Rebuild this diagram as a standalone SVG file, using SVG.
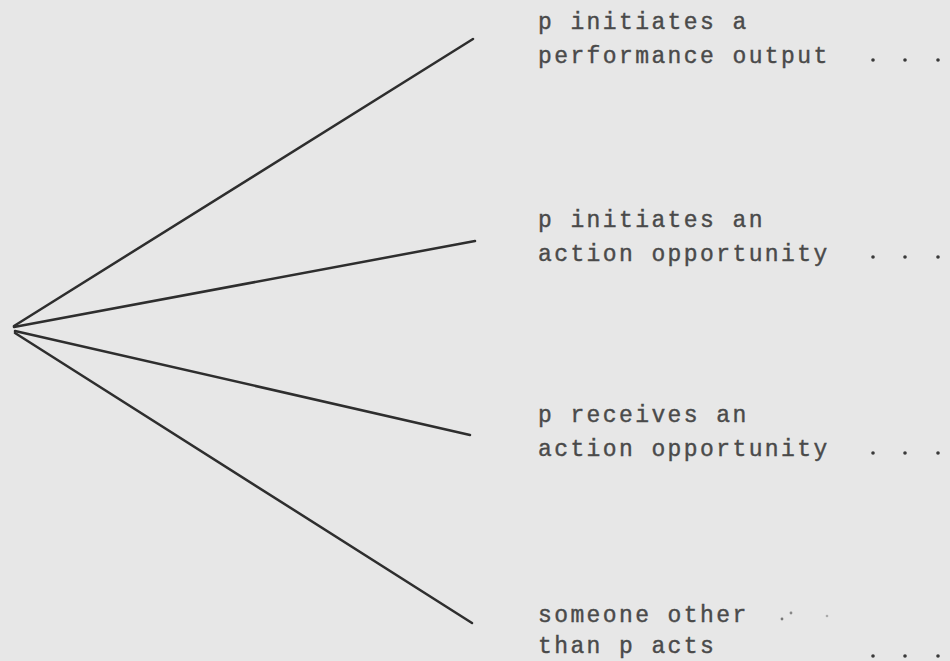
<svg xmlns="http://www.w3.org/2000/svg" width="950" height="661" viewBox="0 0 950 661">
<style>
.t{font-family:"Liberation Mono","DejaVu Sans Mono",monospace;font-size:23px;fill:#4a4a4a;stroke:#4a4a4a;stroke-width:0.4;letter-spacing:2.4px}
.l{stroke:#2e2e2e;stroke-width:2.5;stroke-linecap:round;fill:none}
.d{fill:#3a3a3a}
</style>
<rect width="950" height="661" fill="#e7e7e7"/>
<g id="connectors">
<line class="l" x1="14" y1="326" x2="473" y2="39"/>
<line class="l" x1="14" y1="327" x2="475" y2="241"/>
<line class="l" x1="15" y1="331" x2="470" y2="435"/>
<line class="l" x1="15" y1="333" x2="472" y2="623"/>
</g>
<g id="node1">
<text class="t" x="538" y="29">p initiates a</text>
<text class="t" x="538" y="63">performance output</text>
<circle class="d" cx="873" cy="60" r="1.8"/><circle class="d" cx="905" cy="60" r="1.8"/><circle class="d" cx="938" cy="60" r="1.8"/>
</g>
<g id="node2">
<text class="t" x="538" y="227">p initiates an</text>
<text class="t" x="538" y="261">action opportunity</text>
<circle class="d" cx="873" cy="257" r="1.8"/><circle class="d" cx="905" cy="257" r="1.8"/><circle class="d" cx="938" cy="257" r="1.8"/>
</g>
<g id="node3">
<text class="t" x="538" y="422">p receives an</text>
<text class="t" x="538" y="456">action opportunity</text>
<circle class="d" cx="873" cy="453" r="1.8"/><circle class="d" cx="905" cy="453" r="1.8"/><circle class="d" cx="938" cy="453" r="1.8"/>
</g>
<g id="node4">
<text class="t" x="538" y="622">someone other</text>
<text class="t" x="538" y="653">than p acts</text>
<circle cx="782" cy="619" r="1.4" fill="#777"/><circle cx="791" cy="613" r="1.4" fill="#888"/><circle cx="827" cy="616" r="1.3" fill="#aaa"/>
<circle class="d" cx="873" cy="656" r="1.8"/><circle class="d" cx="905" cy="656" r="1.8"/><circle class="d" cx="938" cy="656" r="1.8"/>
</g>
</svg>
